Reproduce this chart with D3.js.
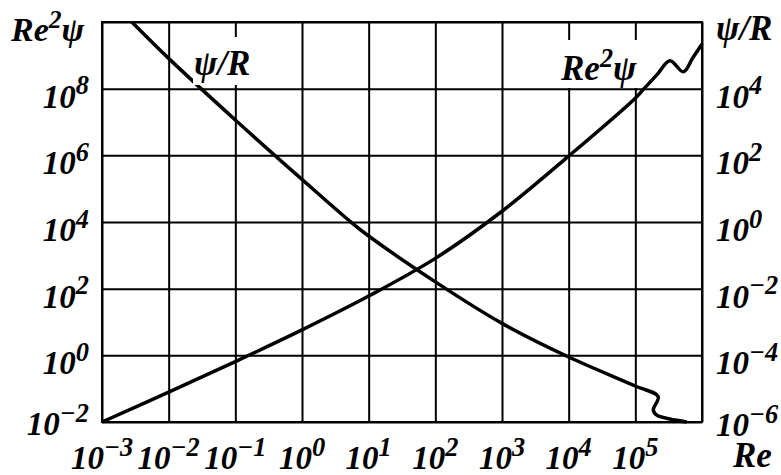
<!DOCTYPE html>
<html>
<head>
<meta charset="utf-8">
<script src="https://cdn.jsdelivr.net/npm/d3@7"></script>
<style>
  body { margin: 0; background: #fff; }
  text { font-family: "Liberation Serif", "Times New Roman", serif; font-weight: bold; font-style: italic; fill: #000; }
</style>
</head>
<body>
<div class="chart"></div>
<script>
var svgWidth = 781;
var svgHeight = 475;

var margin = { top: 22, right: 79, bottom: 53, left: 102 };
var width = svgWidth - margin.left - margin.right;
var height = svgHeight - margin.top - margin.bottom;

// curve Re^2 psi (left axis)
var sqRe = [1e-3, 1e-2, 1e-1, 1, 10, 100, 1000, 1e4, 1e5, 1.32e5, 2.1e5, 3.3e5, 5.25e5, 7.25e5, 1e6];
var sqVal = [0.01, 0.079, 0.65, 5.8, 60, 810, 2.1e4, 9.5e5, 5.2e7, 9.5e7, 2.6e8, 6.9e8, 3.2e8, 8.3e8, 2.2e9];

// curve psi/R (right axis)
var prRe = [2.8e-3, 1e-2, 1e-1, 1, 5.25, 10, 100, 1000, 1e4, 1e5, 2.2e5, 1.86e5, 2.1e5, 3.3e5, 5.9e5];
var prVal = [1e6, 8.1e4, 1150, 19, 1.05, 0.38, 0.016, 9.1e-4, 8.9e-5, 1.2e-5, 5.8e-6, 2.3e-6, 1.6e-6, 1.23e-6, 1e-6];

// tick exponents
var xTicks = [-3, -2, -1, 0, 1, 2, 3, 4, 5];
var xGrid = [1e-3, 1e-2, 1e-1, 1, 10, 100, 1000, 1e4, 1e5, 1e6];
var leftTicks = [-2, 0, 2, 4, 6, 8];
var yGrid = [1e-2, 1, 1e2, 1e4, 1e6, 1e8, 1e10];
var rightTicks = [-6, -4, -2, 0, 2, 4];

var svg = d3.select(".chart")
  .append("svg")
  .attr("width", svgWidth)
  .attr("height", svgHeight);

var chartGroup = svg.append("g")
  .attr("transform", `translate(${margin.left}, ${margin.top})`);

var x = d3.scaleLog().domain([1e-3, 1e6]).range([0, width]);
var yLeft = d3.scaleLog().domain([1e-2, 1e10]).range([height, 0]);
var yRight = d3.scaleLog().domain([1e-6, 1e6]).range([height, 0]);

// grid
chartGroup.append("g")
  .attr("class", "grid")
  .attr("transform", `translate(0, ${height})`)
  .call(d3.axisBottom(x).tickValues(xGrid).tickSize(-height).tickFormat(""));

chartGroup.append("g")
  .attr("class", "grid")
  .call(d3.axisLeft(yLeft).tickValues(yGrid).tickSize(-width).tickFormat(""));

chartGroup.selectAll(".grid .domain").remove();
chartGroup.selectAll(".grid line")
  .attr("stroke", "#000")
  .attr("stroke-width", 2);

chartGroup.append("rect")
  .attr("width", width)
  .attr("height", height)
  .attr("fill", "none")
  .attr("stroke", "#000")
  .attr("stroke-width", 2);

// "10^n" label with superscript
function powLabel(sel, e) {
  sel.append("tspan").text("10");
  sel.append("tspan")
    .attr("font-size", "80%")
    .attr("dy", "-0.5em")
    .text(String(e).replace("-", "\u2212"));
}

chartGroup.selectAll(".xlab")
  .data(xTicks)
  .enter()
  .append("text")
  .attr("class", "xlab")
  .attr("x", d => x(Math.pow(10, d)))
  .attr("y", height + 47)
  .attr("text-anchor", "middle")
  .attr("font-size", 33)
  .each(function(d) { powLabel(d3.select(this), d); });

chartGroup.selectAll(".ylab")
  .data(leftTicks)
  .enter()
  .append("text")
  .attr("class", "ylab")
  .attr("x", -13)
  .attr("y", d => yLeft(Math.pow(10, d)) + (d === -2 ? 13 : 19))
  .attr("text-anchor", "end")
  .attr("font-size", 33)
  .each(function(d) { powLabel(d3.select(this), d); });

chartGroup.selectAll(".rlab")
  .data(rightTicks)
  .enter()
  .append("text")
  .attr("class", "rlab")
  .attr("x", width + 14)
  .attr("y", d => yRight(Math.pow(10, d)) + (d === -6 ? 14 : 19))
  .attr("font-size", 33)
  .each(function(d) { powLabel(d3.select(this), d); });

// axis titles
var leftTitle = svg.append("text")
  .attr("x", 11)
  .attr("y", 41)
  .attr("font-size", 34);
leftTitle.append("tspan").text("Re");
leftTitle.append("tspan").attr("font-size", "75%").attr("dy", "-0.5em").text("2");
leftTitle.append("tspan").attr("dy", "0.375em").text("\u03c8");

svg.append("text")
  .attr("x", 716)
  .attr("y", 40)
  .attr("font-size", 35)
  .text("\u03c8/R");

svg.append("text")
  .attr("x", 733)
  .attr("y", 467)
  .attr("font-size", 35)
  .text("Re");

// in-plot labels on white boxes
svg.append("rect")
  .attr("x", 193).attr("y", 37).attr("width", 60).attr("height", 48)
  .attr("fill", "#fff");
svg.append("rect")
  .attr("x", 548).attr("y", 40).attr("width", 92).attr("height", 48)
  .attr("fill", "#fff");

svg.append("text")
  .attr("x", 194)
  .attr("y", 75)
  .attr("font-size", 35)
  .text("\u03c8/R");

var inTitle = svg.append("text")
  .attr("x", 561)
  .attr("y", 80)
  .attr("font-size", 35);
inTitle.append("tspan").text("Re");
inTitle.append("tspan").attr("font-size", "75%").attr("dy", "-0.5em").text("2");
inTitle.append("tspan").attr("dy", "0.375em").text("\u03c8");

// curves
var sqLine = d3.line()
  .x(d => x(d[0]))
  .y(d => yLeft(d[1]))
  .curve(d3.curveCatmullRom.alpha(0.5));

var prLine = d3.line()
  .x(d => x(d[0]))
  .y(d => yRight(d[1]))
  .curve(d3.curveCatmullRom.alpha(0.5));

chartGroup.append("path")
  .datum(d3.zip(sqRe, sqVal))
  .attr("d", sqLine)
  .attr("fill", "none")
  .attr("stroke", "#000")
  .attr("stroke-width", 3.5);

chartGroup.append("path")
  .datum(d3.zip(prRe, prVal))
  .attr("d", prLine)
  .attr("fill", "none")
  .attr("stroke", "#000")
  .attr("stroke-width", 3.5);
</script>
</body>
</html>
